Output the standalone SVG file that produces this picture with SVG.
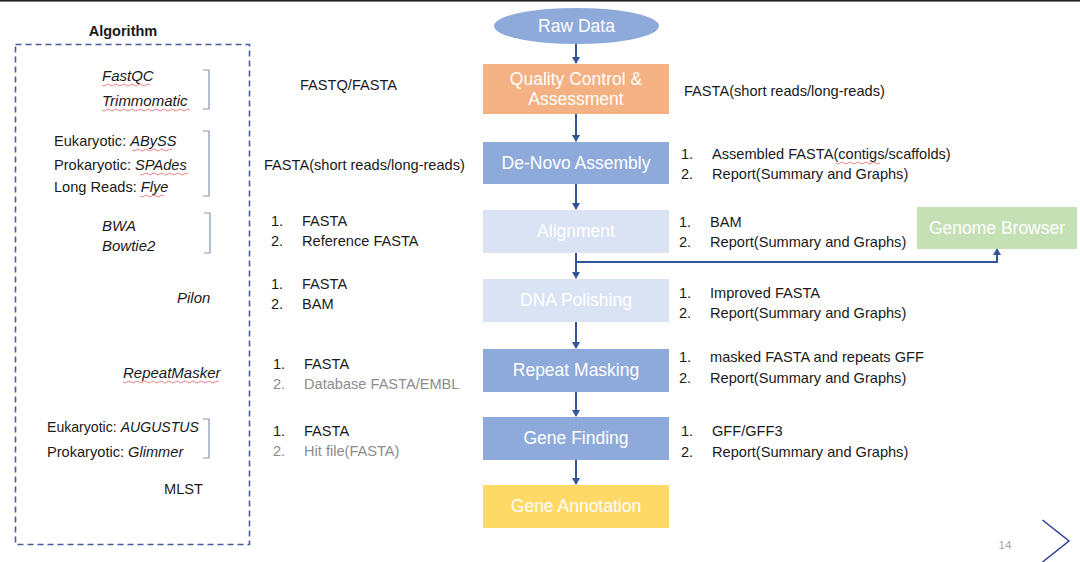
<svg xmlns="http://www.w3.org/2000/svg" width="1080" height="562" viewBox="0 0 1080 562">
<defs>
<style>
.t{font-family:"Liberation Sans",Arial,sans-serif;font-size:14.6px;fill:#1a1a1a}
.i{font-style:italic}
.ii{font-style:italic;font-size:15px}
.g{fill:#8c8c8c}
.b{font-family:"Liberation Sans",Arial,sans-serif;font-size:17.5px;fill:#ffffff;text-anchor:middle}
.br{fill:none;stroke:#8496b0;stroke-width:1.2}
.c{fill:none;stroke:#2f5597;stroke-width:2}
.sq{fill:none;stroke:#e06666;stroke-width:0.8}
</style>
<marker id="ah" markerWidth="8" markerHeight="8" refX="6" refY="4" orient="auto" markerUnits="userSpaceOnUse">
<path d="M0,0 L7,4 L0,8 z" fill="#2f5597"/>
</marker>
</defs>
<rect x="0" y="0" width="1080" height="562" fill="#ffffff"/>
<rect x="0" y="0" width="1080" height="1.6" fill="#222222"/>

<g id="algorithm-panel">
<text x="123" y="36" class="t" style="font-weight:bold;text-anchor:middle;font-size:14.5px">Algorithm</text>
<rect x="15.5" y="44.5" width="234" height="500" fill="none" stroke="#4a5a9a" stroke-width="1.6" stroke-dasharray="6,4"/>
<text x="102" y="81" class="t ii">FastQC</text>
<text x="102" y="106" class="t ii">Trimmomatic</text>
<path class="br" d="M203,70 H209 V109 H203"/>
<text x="54" y="146" class="t">Eukaryotic: <tspan class="i">ABySS</tspan></text>
<text x="54" y="170" class="t">Prokaryotic: <tspan class="i">SPAdes</tspan></text>
<text x="54" y="192" class="t">Long Reads: <tspan class="i">Flye</tspan></text>
<path class="br" d="M203,131 H209 V196 H203"/>
<text x="102" y="231" class="t ii">BWA</text>
<text x="102" y="251" class="t ii">Bowtie2</text>
<path class="br" d="M204,213 H210 V253 H204"/>
<text x="177" y="303" class="t ii">Pilon</text>
<text x="123" y="378" class="t ii">RepeatMasker</text>
<text x="47" y="432" class="t" style="font-size:14.1px">Eukaryotic: <tspan class="i">AUGUSTUS</tspan></text>
<text x="47" y="457" class="t">Prokaryotic: <tspan class="i">Glimmer</tspan></text>
<path class="br" d="M203,419 H209 V458 H203"/>
<text x="164" y="494" class="t">MLST</text>
<path class="sq" d="M102,85 q2,2 4,0 t4,0 t4,0 t4,0 t4,0 t4,0 t4,0 t4,0 t4,0 t4,0 t4,0 t4,0"/>
<path class="sq" d="M102,110 q2,2 4,0 t4,0 t4,0 t4,0 t4,0 t4,0 t4,0 t4,0 t4,0 t4,0 t4,0 t4,0 t4,0 t4,0 t4,0 t4,0 t4,0 t4,0 t4,0 t4,0 t4,0 t4,0"/>
<path class="sq" d="M132,150 q2,2 4,0 t4,0 t4,0 t4,0 t4,0 t4,0 t4,0 t4,0 t4,0 t4,0"/>
<path class="sq" d="M140,174 q2,2 4,0 t4,0 t4,0 t4,0 t4,0 t4,0 t4,0 t4,0 t4,0 t4,0 t4,0 t4,0"/>
<path class="sq" d="M140,196 q2,2 4,0 t4,0 t4,0 t4,0 t4,0 t4,0"/>
<path class="sq" d="M123,382 q2,2 4,0 t4,0 t4,0 t4,0 t4,0 t4,0 t4,0 t4,0 t4,0 t4,0 t4,0 t4,0 t4,0 t4,0 t4,0 t4,0 t4,0 t4,0 t4,0 t4,0 t4,0 t4,0 t4,0 t4,0"/>
</g>

<g id="inputs">
<text x="300" y="90" class="t">FASTQ/FASTA</text>
<text x="264" y="170" class="t">FASTA(short reads/long-reads)</text>
<text x="271" y="226" class="t">1.</text><text x="302" y="226" class="t">FASTA</text>
<text x="271" y="246" class="t">2.</text><text x="302" y="246" class="t">Reference FASTA</text>
<text x="271" y="289" class="t">1.</text><text x="302" y="289" class="t">FASTA</text>
<text x="271" y="309" class="t">2.</text><text x="302" y="309" class="t">BAM</text>
<text x="273" y="369" class="t">1.</text><text x="304" y="369" class="t">FASTA</text>
<text x="273" y="389" class="t g">2.</text><text x="304" y="389" class="t g">Database FASTA/EMBL</text>
<text x="273" y="436" class="t">1.</text><text x="304" y="436" class="t">FASTA</text>
<text x="273" y="456" class="t g">2.</text><text x="304" y="456" class="t g">Hit file(FASTA)</text>
</g>

<g id="outputs">
<text x="684" y="96" class="t">FASTA(short reads/long-reads)</text>
<text x="681" y="159" class="t">1.</text><text x="712" y="159" class="t">Assembled FASTA(contigs/scaffolds)</text>
<text x="681" y="179" class="t">2.</text><text x="712" y="179" class="t">Report(Summary and Graphs)</text>
<path class="sq" d="M836,163 q2,2 4,0 t4,0 t4,0 t4,0 t4,0 t4,0 t4,0 t4,0 t4,0 t4,0 t4,0"/>
<text x="679" y="227" class="t">1.</text><text x="710" y="227" class="t">BAM</text>
<text x="679" y="247" class="t">2.</text><text x="710" y="247" class="t">Report(Summary and Graphs)</text>
<text x="679" y="298" class="t">1.</text><text x="710" y="298" class="t">Improved FASTA</text>
<text x="679" y="318" class="t">2.</text><text x="710" y="318" class="t">Report(Summary and Graphs)</text>
<text x="679" y="362" class="t">1.</text><text x="710" y="362" class="t">masked FASTA and repeats GFF</text>
<text x="679" y="383" class="t">2.</text><text x="710" y="383" class="t">Report(Summary and Graphs)</text>
<text x="681" y="436" class="t">1.</text><text x="712" y="436" class="t">GFF/GFF3</text>
<text x="681" y="457" class="t">2.</text><text x="712" y="457" class="t">Report(Summary and Graphs)</text>
</g>

<g id="connectors">
<path class="c" d="M576,44 V63" marker-end="url(#ah)"/>
<path class="c" d="M576,114 V141" marker-end="url(#ah)"/>
<path class="c" d="M576,184 V209" marker-end="url(#ah)"/>
<path class="c" d="M576,253 V278" marker-end="url(#ah)"/>
<path class="c" d="M576,262 H997 V249" marker-end="url(#ah)"/>
<path class="c" d="M576,322 V348" marker-end="url(#ah)"/>
<path class="c" d="M576,392 V416" marker-end="url(#ah)"/>
<path class="c" d="M576,460 V484" marker-end="url(#ah)"/>
</g>

<g id="raw-data">
<ellipse cx="576.5" cy="26" rx="82.5" ry="18" fill="#8eaadb"/>
<text x="576.5" y="32" class="b">Raw Data</text>
</g>
<g id="quality-control">
<rect x="483" y="64" width="186" height="50" fill="#f4b183"/>
<text x="576" y="85" class="b">Quality Control &amp;</text>
<text x="576" y="105" class="b">Assessment</text>
</g>
<g id="de-novo-assembly">
<rect x="483" y="142" width="186" height="42" fill="#8eaadb"/>
<text x="576" y="169" class="b">De-Novo Assembly</text>
</g>
<g id="alignment">
<rect x="483" y="210" width="186" height="43" fill="#dae3f3"/>
<text x="576" y="237" class="b">Alignment</text>
</g>
<g id="dna-polishing">
<rect x="483" y="279" width="186" height="43" fill="#dae3f3"/>
<text x="576" y="306" class="b">DNA Polishing</text>
</g>
<g id="repeat-masking">
<rect x="483" y="349" width="186" height="43" fill="#8eaadb"/>
<text x="576" y="376" class="b">Repeat Masking</text>
</g>
<g id="gene-finding">
<rect x="483" y="417" width="186" height="43" fill="#8eaadb"/>
<text x="576" y="444" class="b">Gene Finding</text>
</g>
<g id="gene-annotation">
<rect x="483" y="485" width="186" height="43" fill="#ffd966"/>
<text x="576" y="512" class="b">Gene Annotation</text>
</g>
<g id="genome-browser">
<rect x="917" y="207" width="160" height="42" fill="#c5e0b4"/>
<text x="997" y="234" class="b">Genome Browser</text>
</g>

<g id="footer">
<text x="1005" y="549" style="font-family:'Liberation Sans',Arial,sans-serif;font-size:11.5px;fill:#a6a6a6" text-anchor="middle">14</text>
<path d="M1042.5,520 L1069,541 L1042.5,562" fill="none" stroke="#2f3f8f" stroke-width="1.5"/>
</g>
</svg>
